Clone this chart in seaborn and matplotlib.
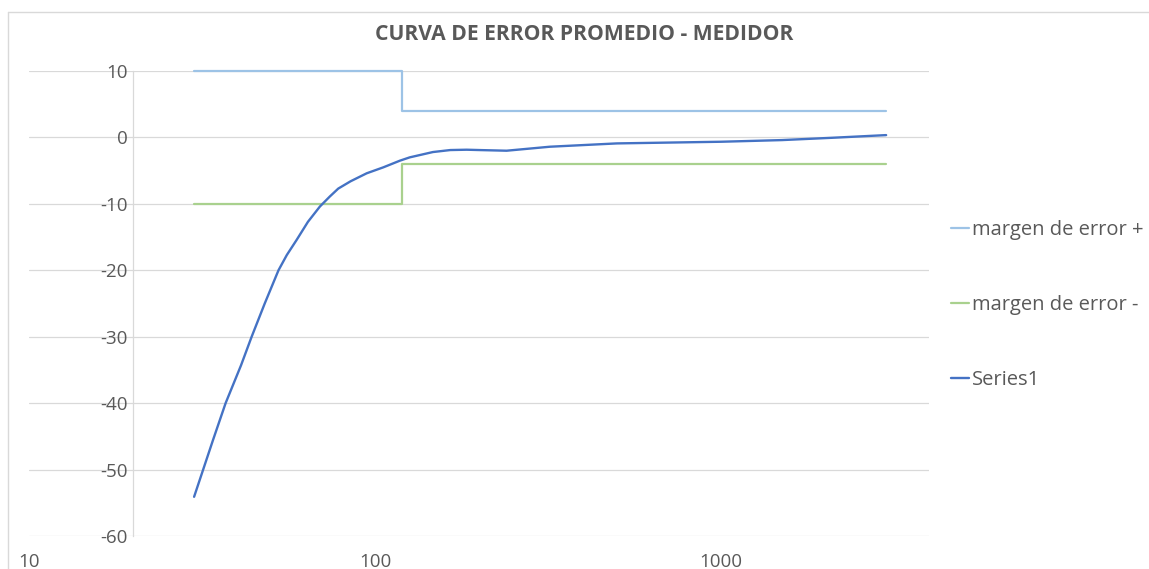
import matplotlib
matplotlib.use("Agg")
import matplotlib.pyplot as plt
import seaborn as sns
import pandas as pd
from matplotlib.lines import Line2D

# ---- data ----
x_margin = [30, 120, 120, 3000]
margin_plus = [10, 10, 4, 4]
margin_minus = [-10, -10, -4, -4]

x_series1 = [30, 34, 37, 41, 44, 48, 52.6, 55.6, 59.4, 64, 69.3, 74, 78.3, 85,
             94.6, 105.7, 118, 126, 147, 165, 184, 200, 240, 320, 500, 1000,
             1500, 2100, 3000]
series1 = [-54.1, -45.6, -40, -34.3, -30, -25, -20, -17.7, -15.4, -12.7, -10.4,
           -8.9, -7.7, -6.6, -5.4, -4.5, -3.5, -3.0, -2.2, -1.9, -1.85, -1.9,
           -2.0, -1.4, -0.9, -0.65, -0.4, -0.05, 0.35]

x_ticks = [10, 100, 1000]
y_ticks = [10, 0, -10, -20, -30, -40, -50, -60]
title = "CURVA DE ERROR PROMEDIO - MEDIDOR"
labels = ["margen de error +", "margen de error -", "Series1"]
colors = ["#9DC3E6", "#A9D18E", "#4472C4"]
x_limits = (10, 3990)
y_limits = (-60, 10)
y_axis_cross = 20

sns.set_theme(style="white")
plt.rcParams['font.family'] = ['Open Sans', 'DejaVu Sans']

W, H = 1149, 569
fig = plt.figure(figsize=(W / 100, H / 100), dpi=100)
ax = fig.add_axes([29 / W, 1 - 536 / H, (929 - 29) / W, (536 - 71) / H])

df_plus = pd.DataFrame({"x": x_margin, "y": margin_plus})
df_minus = pd.DataFrame({"x": x_margin, "y": margin_minus})
df_s1 = pd.DataFrame({"x": x_series1, "y": series1})

sns.lineplot(data=df_plus, x="x", y="y", ax=ax, sort=False, estimator=None,
             color=colors[0], linewidth=1.6, label=labels[0], clip_on=False)
sns.lineplot(data=df_minus, x="x", y="y", ax=ax, sort=False, estimator=None,
             color=colors[1], linewidth=1.6, label=labels[1], clip_on=False)
sns.lineplot(data=df_s1, x="x", y="y", ax=ax, sort=False, estimator=None,
             color=colors[2], linewidth=1.7, label=labels[2], clip_on=False)

ax.set_xscale("log")
ax.set_xlim(*x_limits)
ax.set_ylim(*y_limits)
ax.set_xlabel("")
ax.set_ylabel("")

ax.set_yticks(y_ticks)
ax.set_yticklabels([str(v) for v in y_ticks])
ax.set_xticks(x_ticks)
ax.set_xticklabels([str(v) for v in x_ticks])
ax.xaxis.set_minor_locator(matplotlib.ticker.NullLocator())

ax.grid(axis="y", color="#D9D9D9", linewidth=0.9)
ax.grid(axis="x", visible=False)
ax.set_axisbelow(True)

for s in ["top", "right", "bottom"]:
    ax.spines[s].set_visible(False)
ax.spines["left"].set_position(("data", y_axis_cross))
ax.spines["left"].set_color("#D9D9D9")
ax.spines["left"].set_linewidth(0.9)

ax.tick_params(axis="y", length=0, pad=4, labelsize=13.5, labelcolor="#595959")
ax.tick_params(axis="x", length=0, pad=12, labelsize=13.5, labelcolor="#595959")

fig.text(584 / W, 1 - 34 / H, title, ha="center", va="center",
         fontsize=15.2, fontweight="bold", color="#595959")

ax.get_legend().remove()
handles, lbls = ax.get_legend_handles_labels()
fig.legend(handles, lbls, loc="upper left", bbox_to_anchor=(933 / W, 1 - 202 / H),
           frameon=False, fontsize=14.5, handlelength=0.9, handletextpad=0.15,
           labelspacing=2.72, labelcolor="#595959")

# chart frame (top and left edges only)
fy = 1 - 12 / H
fx = 8 / W
fig.add_artist(Line2D([fx, 1.0], [fy, fy], transform=fig.transFigure,
                      color="#D9D9D9", linewidth=1))
fig.add_artist(Line2D([fx, fx], [0.0, fy], transform=fig.transFigure,
                      color="#D9D9D9", linewidth=1))

fig.savefig("out.png", dpi=100, facecolor="white")
